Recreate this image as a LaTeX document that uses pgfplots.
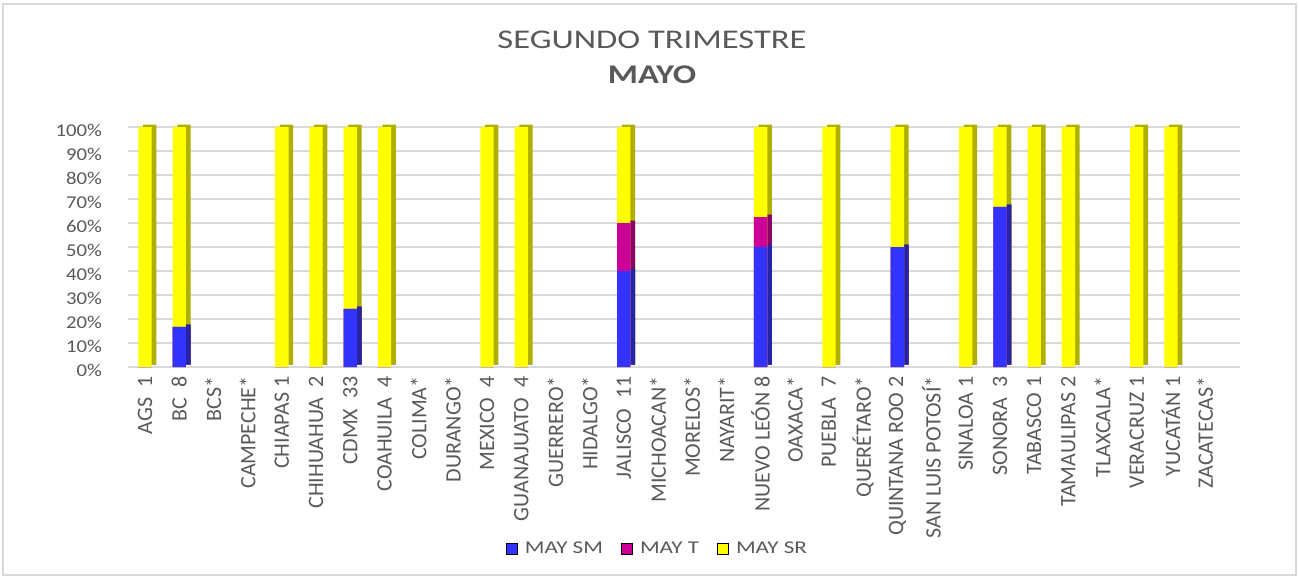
\documentclass[border=0pt]{standalone}
\usepackage{pgfplots}
\pgfplotsset{compat=1.18}
\usepackage{pgfplotstable}
\usepackage{fontspec}
\setmainfont{Carlito}
\newfontfamily\widefont{Carlito}[FakeStretch=1.28]
\newfontfamily\ytfont{Carlito}[FakeStretch=1.15]
\definecolor{txt}{HTML}{595959}
\definecolor{gridc}{HTML}{D9D9D9}
\definecolor{smc}{HTML}{3333FF}
\definecolor{smd}{HTML}{2424A8}
\definecolor{ttc}{HTML}{CC0099}
\definecolor{ttd}{HTML}{8A0068}
\definecolor{src}{HTML}{FFFF00}
\definecolor{srd}{HTML}{AFAF00}

\pgfplotstableread{
x sm t sr
0 0 0 100
1 16.7 0 83.3
4 0 0 100
5 0 0 100
6 24.2 0 75.8
7 0 0 100
10 0 0 100
11 0 0 100
14 40 20 40
18 50 12.5 37.5
20 0 0 100
22 50 0 50
24 0 0 100
25 66.7 0 33.3
26 0 0 100
27 0 0 100
29 0 0 100
30 0 0 100
}\datatab

\begin{document}
\begin{tikzpicture}
\useasboundingbox (-64pt,-106pt) rectangle (585.5pt,183.5pt);
\draw[gridc, line width=0.8pt] (-62.5pt,-104pt) rectangle (584pt,181.5pt);
\begin{axis}[
  at={(0pt,0pt)}, anchor=south west,
  scale only axis, width=556pt, height=120pt,
  xmin=-0.5, xmax=32.02, ymin=0, ymax=100,
  axis line style={draw=none},
  major tick length=0pt,
  ytick={0,10,...,100},
  yticklabels={0\%,10\%,20\%,30\%,40\%,50\%,60\%,70\%,80\%,90\%,100\%},
  yticklabel style={font=\ytfont\fontsize{9}{11}\selectfont, text=txt, xshift=-9.5pt, yshift=-1.5pt},
  ymajorgrids, grid style={gridc, line width=0.9pt},
  xtick={0,...,31},
  xticklabels={AGS\ \ 1,BC\ \ 8,BCS*,CAMPECHE*,CHIAPAS 1,CHIHUAHUA\ \ 2,CDMX\ \ 33,COAHUILA\ \ 4,COLIMA*,DURANGO*,MEXICO\ \ 4,GUANAJUATO\ \ 4,GUERRERO*,HIDALGO*,JALISCO\ \ 11,MICHOACAN*,MORELOS*,NAYARIT*,NUEVO LEÓN 8,OAXACA*,PUEBLA\ \ 7,QUERÉTARO*,QUINTANA ROO 2,SAN LUIS POTOSÍ*,SINALOA 1,SONORA\ \ 3,TABASCO 1,TAMAULIPAS 2,TLAXCALA*,VERACRUZ 1,YUCATÁN 1,ZACATECAS*},
  xticklabel style={rotate=90, anchor=east, font=\fontsize{11}{13}\selectfont, text=txt, xshift=-4.5pt, inner xsep=0pt},
  clip=false,
  ybar, bar width=6.65pt,
  legend image code/.code={\fill[#1] (0pt,-2.8pt) rectangle (5.6pt,2.8pt);},
  legend columns=3,
  legend style={draw=none, fill=none, at={(0.477,-0.758)}, anchor=center,
    font=\widefont\fontsize{9}{11}\selectfont, text=txt,
    /tikz/every odd column/.append style={column sep=1.5pt},
    /tikz/every even column/.append style={column sep=7pt}},
]
\addlegendimage{fill=smc}
\addlegendentry{MAY SM}
\addlegendimage{fill=ttc}
\addlegendentry{MAY T}
\addlegendimage{fill=src}
\addlegendentry{MAY SR}
% side faces (3D shading)
\addplot[forget plot, fill=srd, draw=none, bar shift=2.35pt, yshift=1.2pt] table[x=x, y expr=\thisrow{sm}+\thisrow{t}+\thisrow{sr}] {\datatab};
\addplot[forget plot, fill=ttd, draw=none, bar shift=2.35pt, yshift=1.2pt] table[x=x, y expr=\thisrow{sm}+\thisrow{t}] {\datatab};
\addplot[forget plot, fill=smd, draw=none, bar shift=2.35pt, yshift=1.2pt] table[x=x, y=sm] {\datatab};
% front faces
\addplot[forget plot, fill=src, draw=none, bar shift=0pt] table[x=x, y expr=\thisrow{sm}+\thisrow{t}+\thisrow{sr}] {\datatab};
\addplot[forget plot, fill=ttc, draw=none, bar shift=0pt] table[x=x, y expr=\thisrow{sm}+\thisrow{t}] {\datatab};
\addplot[forget plot, fill=smc, draw=none, bar shift=0pt] table[x=x, y=sm] {\datatab};
\end{axis}
\node[text=txt, font=\widefont\fontsize{13.5}{16}\selectfont] at (262pt,163.5pt) {SEGUNDO TRIMESTRE};
\node[text=txt, font=\widefont\fontsize{13.5}{16}\selectfont\bfseries] at (262pt,146pt) {MAYO};
\end{tikzpicture}
\end{document}
